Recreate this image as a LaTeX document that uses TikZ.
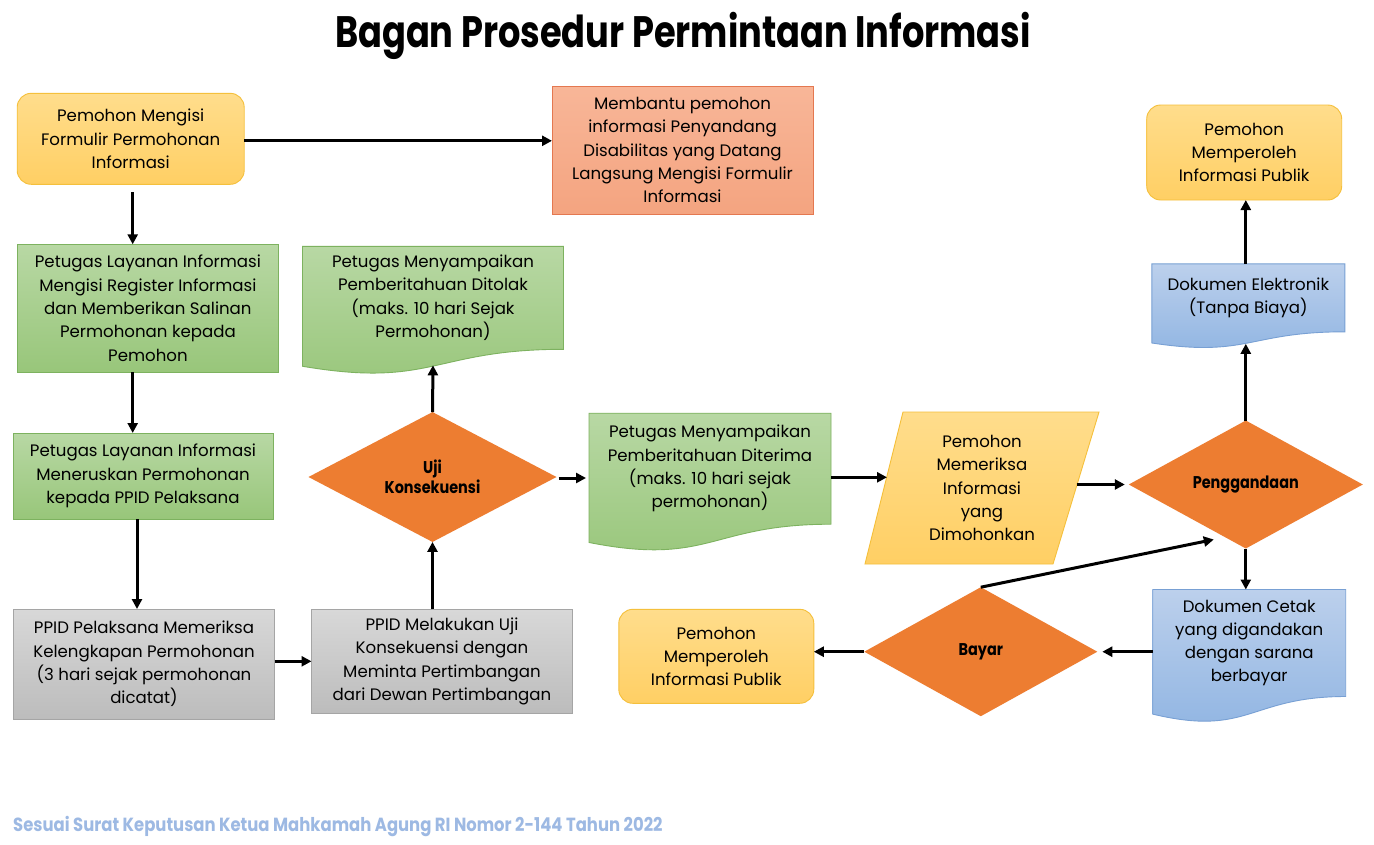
\documentclass[tikz,border=0pt]{standalone}
\usepackage{fontspec}
\setmainfont{Poppins}
\newfontfamily\titlefont[FakeStretch=0.8]{Poppins}
\newfontfamily\diafont[FakeStretch=0.85]{Poppins}
\newfontfamily\footfont[FakeStretch=0.865]{Poppins}
\usetikzlibrary{arrows.meta,shapes.geometric,calc,backgrounds}
\definecolor{yelT}{RGB}{255,221,140}
\definecolor{yelBo}{RGB}{255,207,100}
\definecolor{yelD}{RGB}{245,192,60}
\definecolor{grnT}{RGB}{184,216,164}
\definecolor{grnBo}{RGB}{152,198,122}
\definecolor{grnD}{RGB}{125,178,95}
\definecolor{gryT}{RGB}{216,216,216}
\definecolor{gryBo}{RGB}{188,188,188}
\definecolor{gryD}{RGB}{165,165,165}
\definecolor{bluT}{RGB}{188,208,236}
\definecolor{bluBo}{RGB}{143,180,226}
\definecolor{bluD}{RGB}{120,160,212}
\definecolor{salT}{RGB}{248,182,152}
\definecolor{salBo}{RGB}{244,164,128}
\definecolor{salD}{RGB}{228,120,80}
\definecolor{orng}{RGB}{237,125,49}
\definecolor{footblue}{RGB}{157,185,227}
\newcommand\docbg[3]{%
  \begin{pgfonlayer}{background}
  \path[#2] (#1.north west) -- (#1.north east) -- (#1.south east)
    .. controls (#1.south) and ($(#1.south)+(0,0.38*#3)$) ..
    ($(#1.south west)+(0,0.1646*#3)$) -- cycle;
  \end{pgfonlayer}}
\tikzset{
  base/.style={align=center, inner sep=1pt, outer sep=0pt,
    font=\fontsize{16.6}{23.3}\selectfont, text=black},
  yelbox/.style={base, rectangle, rounded corners=14pt, draw=yelD, line width=0.9pt,
    top color=yelT, bottom color=yelBo},
  salbox/.style={base, rectangle, draw=salD, line width=0.9pt, top color=salT, bottom color=salBo},
  grnbox/.style={base, rectangle, draw=grnD, line width=0.9pt, top color=grnT, bottom color=grnBo},
  grybox/.style={base, rectangle, draw=gryD, line width=0.9pt, top color=gryT, bottom color=gryBo},
  docn/.style={base, rectangle},
  grnfill/.style={draw=grnD, line width=0.9pt, top color=grnT, bottom color=grnBo},
  blufill/.style={draw=bluD, line width=0.9pt, top color=bluT, bottom color=bluBo},
  yelfill/.style={draw=yelD, line width=0.9pt, top color=yelT, bottom color=yelBo},
  dia/.style={diamond, fill=orng, inner sep=0pt, outer sep=0pt, align=center,
    font=\diafont\bfseries\fontsize{17}{20.5}\selectfont},
  arr/.style={line width=3pt, -{Triangle[length=10pt,width=10pt]}},
}
\begin{document}
\begin{tikzpicture}[x=1pt,y=-1pt]
\useasboundingbox (0,0) rectangle (1374,844);
\begin{pgfonlayer}{background}
\fill[white] (0,0) rectangle (1374,844);
\end{pgfonlayer}

\node[anchor=base] (title) at (683,47)
  {\titlefont\bfseries\fontsize{44}{44}\selectfont Bagan Prosedur Permintaan Informasi};

\node[yelbox, minimum width=227pt, minimum height=91pt] (n1) at (130.7,138.8)
  {Pemohon Mengisi\\Formulir Permohonan\\Informasi};
\node[salbox, minimum width=261pt, minimum height=128pt] (n2) at (682.5,150)
  {Membantu pemohon\\informasi Penyandang\\Disabilitas yang Datang\\Langsung Mengisi Formulir\\Informasi};
\node[grnbox, minimum width=261pt, minimum height=128pt] (n3) at (147.9,308.3)
  {Petugas Layanan Informasi\\Mengisi Register Informasi\\dan Memberikan Salinan\\Permohonan kepada\\Pemohon};
\node[docn, minimum width=261pt, minimum height=103pt] (n4) at (433,297.8)
  {Petugas Menyampaikan\\Pemberitahuan Ditolak\\(maks. 10 hari Sejak\\Permohonan)};
\docbg{n4}{grnfill}{103}
\node[grnbox, minimum width=260pt, minimum height=86pt] (n5) at (143,476)
  {Petugas Layanan Informasi\\Meneruskan Permohonan\\kepada PPID Pelaksana};
\node[dia, minimum width=248pt, minimum height=128pt] (n6) at (432.5,477)
  {Uji\\Konsekuensi};
\node[docn, minimum width=242pt, minimum height=111pt] (n7) at (710,468.7)
  {Petugas Menyampaikan\\Pemberitahuan Diterima\\(maks. 10 hari sejak\\permohonan)};
\docbg{n7}{grnfill}{111}
\node[docn, minimum width=234pt, minimum height=152pt] (n8) at (982,488)
  {Pemohon\\Memeriksa\\Informasi\\yang\\Dimohonkan};
\begin{pgfonlayer}{background}
\path[yelfill] ($(n8.north west)+(38,0)$) -- (n8.north east)
  -- ($(n8.south east)+(-46,0)$) -- (n8.south west) -- cycle;
\end{pgfonlayer}
\coordinate (n8in) at (887,477.3);
\coordinate (n8out) at (1076.7,484.5);
\node[dia, minimum width=234pt, minimum height=128pt] (n9) at (1245.8,484.5) {Penggandaan};
\node[yelbox, minimum width=195pt, minimum height=95pt] (n10) at (1244.2,152.5)
  {Pemohon\\Memperoleh\\Informasi Publik};
\node[docn, minimum width=193pt, minimum height=68pt] (n11) at (1248.3,297.8)
  {Dokumen Elektronik\\(Tanpa Biaya)};
\docbg{n11}{blufill}{68}
\node[docn, minimum width=193pt, minimum height=107pt] (n12) at (1249.2,643)
  {Dokumen Cetak\\yang digandakan\\dengan sarana\\berbayar};
\docbg{n12}{blufill}{107}
\node[dia, minimum width=233pt, minimum height=129pt] (n13) at (980.8,651.7) {Bayar};
\node[yelbox, minimum width=195pt, minimum height=94pt] (n14) at (716.3,656.3)
  {Pemohon\\Memperoleh\\Informasi Publik};
\node[grybox, minimum width=261pt, minimum height=110pt] (n15) at (144,664)
  {PPID Pelaksana Memeriksa\\Kelengkapan Permohonan\\(3 hari sejak permohonan\\dicatat)};
\node[grybox, minimum width=261pt, minimum height=104pt] (n16) at (442,661.3)
  {PPID Melakukan Uji\\Konsekuensi dengan\\Meminta Pertimbangan\\dari Dewan Pertimbangan};

\node[anchor=base west, inner sep=0pt, text=footblue] (foot) at (13,831)
  {\footfont\bfseries\fontsize{19}{19}\selectfont Sesuai Surat Keputusan Ketua Mahkamah Agung RI Nomor 2-144 Tahun 2022};

% connectors
\draw[arr] ($(n1.east)+(0,2)$) -- ($(n1.east -| n2.west)+(0,2)$);
\draw[arr] ($(n1.south)+(2,8)$) -- ($(n1.south |- n3.north)+(2,0)$);
\draw[arr] ($(n3.south -| n1.south)+(2,0)$) -- ($(n5.north -| n1.south)+(2,0)$);
\draw[arr] ($(n5.south)+(-6,0)$) -- ($(n5.south |- n15.north)+(-6,0)$);
\draw[arr] (n16.west -| n15.east) -- (n16.west);
\draw[arr] (n16.north -| n6.south) -- (n6.south);
\draw[arr] (n6.north) -- ($(n4.south)+(0,16)$);
\draw[arr] ($(n6.east)+(2,1)$) -- ($(n6.east -| n7.west)+(-3,1)$);
\draw[arr] ($(n7.east)+(0,8.6)$) -- (n8in);
\draw[arr, shorten >=4pt] (n8out) -- (n8out -| n9.west);
\draw[arr] (n9.north) -- ($(n9.north |- n11.south)+(0,12)$);
\draw[arr] (n11.north -| n9.north) -- (n10.south -| n9.north);
\draw[arr] (n9.south) -- (n9.south |- n12.north);
\draw[arr] (n13.east -| n12.west) -- ($(n13.east)+(5,0)$);
\draw[arr] (n13.west) -- (n13.west -| n14.east);
\draw[arr] (n13.north) -- ($(n9.south)+(-32,-9)$);
\end{tikzpicture}
\end{document}
